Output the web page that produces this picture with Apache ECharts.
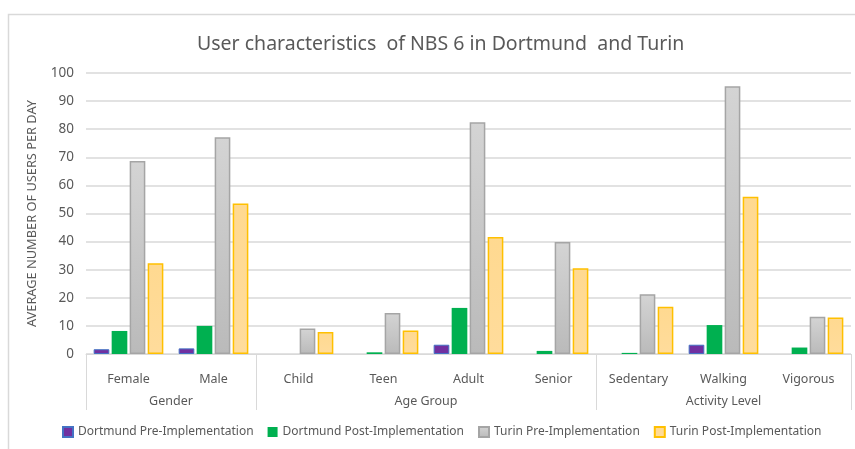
<!DOCTYPE html>
<html>
<head>
<meta charset="utf-8">
<script src="https://cdn.jsdelivr.net/npm/echarts@6/dist/echarts.min.js"></script>
<style>
    html, body {margin: 0; padding: 0; background: #fff;}
    #chart {width: 855px; height: 449px;}
</style>
</head>
<body>
<div id="chart"></div>
<script>
// 数据
var categories = ['Female', 'Male', 'Child', 'Teen', 'Adult', 'Senior', 'Sedentary', 'Walking', 'Vigorous'];
var groupNames = ['Gender', 'Age Group', 'Activity Level'];
var groupBounds = [0, 2, 6, 9];      // 分组边界（类目序号）
var groupCenters = [1, 4, 7.5];
var seriesNames = ['Dortmund Pre-Implementation', 'Dortmund Post-Implementation', 'Turin Pre-Implementation', 'Turin Post-Implementation'];
var dortmundPre = [1.7, 2.0, 0, 0, 3.3, 0, 0, 3.3, 0];
var dortmundPost = [8.2, 10.0, 0, 0.6, 16.4, 1.1, 0.4, 10.3, 2.3];
var turinPre = [68.7, 77.1, 9.1, 14.6, 82.5, 39.9, 21.3, 95.3, 13.3];
var turinPost = [32.3, 53.6, 7.8, 8.4, 41.6, 30.5, 16.8, 56.0, 13.0];

var textColor = '#595959';
var lineColor = '#d9d9d9';
var fontName = 'Noto Sans';

var chart = echarts.init(document.getElementById('chart'));

// 0值不画边框（Excel里0值看不到柱子）
function toBarData(arr) {
    return arr.map(function (v) {
        return v === 0 ? {value: 0, itemStyle: {borderWidth: 0}} : v;
    });
}

function barSeries(name, data, itemStyle) {
    return {
        name: name,
        type: 'bar',
        xAxisIndex: 0,
        data: toBarData(data),
        barCategoryGap: '18%',
        barGap: '15%',
        itemStyle: itemStyle
    };
}

var option = {
    backgroundColor: '#fff',
    animation: false,
    textStyle: {fontFamily: fontName},
    graphic: [{
        type: 'rect',
        shape: {x: 8.5, y: 14.5, width: 900, height: 500},
        style: {fill: 'none', stroke: lineColor, lineWidth: 1.5},
        silent: true
    }],
    title: {
        text: 'User characteristics  of NBS 6 in Dortmund  and Turin',
        left: 192,
        top: 29,
        textStyle: {fontSize: 19.5, fontWeight: 'normal', color: textColor, fontFamily: fontName}
    },
    legend: {
        data: seriesNames,
        bottom: 6,
        left: 57,
        icon: 'rect',
        itemWidth: 10,
        itemHeight: 10,
        itemGap: 14,
        textStyle: {fontSize: 12, color: textColor, fontFamily: fontName}
    },
    grid: {left: 86, right: 4, top: 73, bottom: 95},
    xAxis: [{
        type: 'category',
        data: categories,
        position: 'bottom',
        axisLine: {lineStyle: {color: lineColor, width: 1}},
        axisTick: {show: false},
        axisLabel: {color: textColor, fontSize: 12.5, margin: 19, interval: 0}
    }, {
        type: 'value',
        min: 0,
        max: 9,
        position: 'bottom',
        axisLine: {show: false},
        splitLine: {show: false},
        axisTick: {show: true, customValues: groupBounds, length: 56, lineStyle: {color: lineColor, width: 1}},
        axisLabel: {
            customValues: groupCenters,
            color: textColor,
            fontSize: 12.5,
            margin: 41,
            formatter: function (v) {
                var i = groupCenters.indexOf(v);
                return i >= 0 ? groupNames[i] : '';
            }
        }
    }],
    yAxis: {
        type: 'value',
        min: 0,
        max: 100,
        interval: 10,
        name: 'AVERAGE NUMBER OF USERS PER DAY',
        nameLocation: 'middle',
        nameGap: 47,
        nameTextStyle: {color: textColor, fontSize: 12.8},
        axisLine: {show: false},
        axisTick: {show: false},
        axisLabel: {color: textColor, fontSize: 13.5, margin: 12},
        splitLine: {lineStyle: {color: lineColor, width: 1.5}}
    },
    series: [
        barSeries(seriesNames[0], dortmundPre, {color: '#7030a0', borderColor: '#4472c4', borderWidth: 1}),
        barSeries(seriesNames[1], dortmundPost, {color: '#00b050'}),
        barSeries(seriesNames[2], turinPre, {
            color: new echarts.graphic.LinearGradient(0, 0, 0, 1, [
                {offset: 0, color: '#d4d4d4'},
                {offset: 1, color: '#bababa'}
            ]),
            borderColor: '#a5a5a5',
            borderWidth: 1.5
        }),
        barSeries(seriesNames[3], turinPost, {
            color: new echarts.graphic.LinearGradient(0, 0, 0, 1, [
                {offset: 0, color: '#ffd990'},
                {offset: 1, color: '#ffdc9c'}
            ]),
            borderColor: '#ffc000',
            borderWidth: 1.5
        })
    ]
};

chart.setOption(option);
</script>
</body>
</html>
